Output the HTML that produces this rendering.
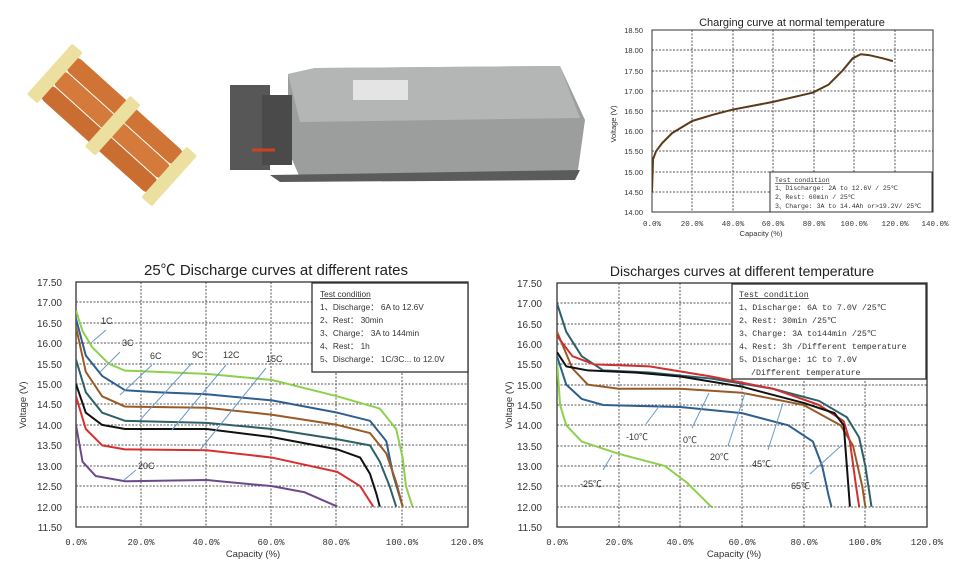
<!DOCTYPE html>
<html><head><meta charset="utf-8"><style>
body{margin:0;background:#fff;}
svg{display:block;font-family:"Liberation Sans","Noto Sans CJK SC",sans-serif;}
.m{font-family:"Liberation Mono","Noto Sans CJK SC",monospace;font-size:9px;fill:#333}
.g line{stroke:#555;stroke-width:1;stroke-dasharray:2,1.5}
</style></head><body>
<svg width="960" height="573" viewBox="0 0 960 573">
<!-- left photo: battery sticks -->
<g transform="translate(112,125) rotate(42)">
  <rect x="-75" y="-28" width="150" height="18" rx="9" fill="#cf7435"/>
  <rect x="-75" y="-9" width="150" height="18" rx="9" fill="#d47a3a"/>
  <rect x="-75" y="10" width="150" height="18" rx="9" fill="#c96d30"/>
  <rect x="-84" y="-34" width="14" height="68" rx="2" fill="#ece0a0"/>
  <rect x="-6" y="-34" width="14" height="68" rx="2" fill="#ece0a0"/>
  <rect x="70" y="-34" width="14" height="68" rx="2" fill="#ece0a0"/>
</g>
<!-- middle photo: battery pack -->
<polygon points="288,74 315,68 560,66 585,120 578,170 560,178 300,178 288,150" fill="#9c9e9d"/>
<polygon points="288,74 315,68 560,66 580,118 300,122" fill="#b4b6b5"/>
<rect x="353" y="80" width="55" height="20" fill="#e4e4e4"/>
<rect x="230" y="85" width="40" height="85" fill="#3a3a3a" opacity="0.85"/>
<rect x="262" y="95" width="30" height="70" fill="#4a4a4a"/>
<line x1="252" y1="150" x2="275" y2="150" stroke="#d04020" stroke-width="3"/>
<polygon points="270,175 580,170 575,180 280,182" fill="#5a5c5b"/>

<!-- ===== Top-right chart ===== -->
<text x="792" y="26" font-size="11" text-anchor="middle" fill="#222">Charging curve at normal temperature</text>
<g class="g">
<line x1="692" y1="30" x2="692" y2="212"/><line x1="733" y1="30" x2="733" y2="212"/><line x1="773" y1="30" x2="773" y2="212"/><line x1="814" y1="30" x2="814" y2="212"/><line x1="854" y1="30" x2="854" y2="212"/><line x1="895" y1="30" x2="895" y2="212"/>
<line x1="652" y1="50" x2="933" y2="50"/><line x1="652" y1="71" x2="933" y2="71"/><line x1="652" y1="91" x2="933" y2="91"/><line x1="652" y1="111" x2="933" y2="111"/><line x1="652" y1="131" x2="933" y2="131"/><line x1="652" y1="151" x2="933" y2="151"/><line x1="652" y1="172" x2="933" y2="172"/><line x1="652" y1="192" x2="933" y2="192"/>
</g>
<rect x="652" y="30" width="281" height="182" fill="none" stroke="#333" stroke-width="1"/>
<g font-size="7.5" fill="#333" text-anchor="end">
<text x="643" y="33">18.50</text><text x="643" y="53">18.00</text><text x="643" y="74">17.50</text><text x="643" y="94">17.00</text><text x="643" y="114">16.50</text><text x="643" y="134">16.00</text><text x="643" y="154">15.50</text><text x="643" y="175">15.00</text><text x="643" y="195">14.50</text><text x="643" y="215">14.00</text>
</g>
<g class="m" text-anchor="middle" style="font-size:7.5px">
<text x="652" y="226">0.0%</text><text x="692" y="226">20.0%</text><text x="733" y="226">40.0%</text><text x="773" y="226">60.0%</text><text x="814" y="226">80.0%</text><text x="854" y="226">100.0%</text><text x="895" y="226">120.0%</text><text x="935" y="226">140.0%</text>
</g>
<text x="761" y="236" font-size="7.5" text-anchor="middle" fill="#333">Capacity (%)</text>
<text transform="translate(616,124) rotate(-90)" font-size="7.5" text-anchor="middle" fill="#333">Voltage (V)</text>
<svg x="652" y="30" width="281" height="182" viewBox="0 -18.5 140 4.5" preserveAspectRatio="none">
<polyline fill="none" stroke="#5a3a18" stroke-width="2" vector-effect="non-scaling-stroke" stroke-linejoin="round" points="0,-14.5 0.5,-15.3 2,-15.5 5,-15.7 10,-15.95 20,-16.25 30,-16.4 40,-16.53 60,-16.72 80,-16.95 88,-17.15 95,-17.5 100,-17.8 104,-17.9 108,-17.88 115,-17.8 120,-17.73"/>
</svg>
<rect x="770" y="172" width="162" height="40" fill="#fff" stroke="#333"/>
<g font-family="Liberation Mono,monospace" font-size="6.5" fill="#333">
<text x="775" y="182" text-decoration="underline">Test condition</text>
<text x="775" y="190">1、Discharge: 2A to 12.6V / 25℃</text>
<text x="775" y="199">2、Rest: 60min / 25℃</text>
<text x="775" y="208">3、Charge: 3A to 14.4Ah or&gt;19.2V/ 25℃</text>
</g>

<!-- ===== Bottom-left chart ===== -->
<text x="276" y="275" font-size="15" text-anchor="middle" fill="#222">25℃ Discharge curves at different rates</text>
<g class="g">
<line x1="141" y1="282" x2="141" y2="527"/><line x1="206" y1="282" x2="206" y2="527"/><line x1="271" y1="282" x2="271" y2="527"/><line x1="336" y1="282" x2="336" y2="527"/><line x1="402" y1="282" x2="402" y2="527"/>
<line x1="76" y1="302" x2="468" y2="302"/><line x1="76" y1="323" x2="468" y2="323"/><line x1="76" y1="343" x2="468" y2="343"/><line x1="76" y1="364" x2="468" y2="364"/><line x1="76" y1="384" x2="468" y2="384"/><line x1="76" y1="404" x2="468" y2="404"/><line x1="76" y1="425" x2="468" y2="425"/><line x1="76" y1="445" x2="468" y2="445"/><line x1="76" y1="466" x2="468" y2="466"/><line x1="76" y1="486" x2="468" y2="486"/><line x1="76" y1="507" x2="468" y2="507"/>
</g>
<rect x="76" y="282" width="392" height="245" fill="none" stroke="#333" stroke-width="1.3"/>
<g font-size="10" fill="#333" text-anchor="end">
<text x="62" y="286">17.50</text><text x="62" y="306">17.00</text><text x="62" y="327">16.50</text><text x="62" y="347">16.00</text><text x="62" y="368">15.50</text><text x="62" y="388">15.00</text><text x="62" y="408">14.50</text><text x="62" y="429">14.00</text><text x="62" y="449">13.50</text><text x="62" y="470">13.00</text><text x="62" y="490">12.50</text><text x="62" y="511">12.00</text><text x="62" y="531">11.50</text>
</g>
<g class="m" text-anchor="middle">
<text x="76" y="545">0.0%</text><text x="141" y="545">20.0%</text><text x="206" y="545">40.0%</text><text x="271" y="545">60.0%</text><text x="336" y="545">80.0%</text><text x="402" y="545">100.0%</text><text x="467" y="545">120.0%</text>
</g>
<text x="253" y="557" font-size="9.5" text-anchor="middle" fill="#333">Capacity (%)</text>
<text transform="translate(26,405) rotate(-90)" font-size="9.5" text-anchor="middle" fill="#333">Voltage (V)</text>
<svg x="76" y="282" width="392" height="245" viewBox="0 -17.5 120 6" preserveAspectRatio="none">
<g fill="none" stroke-width="2" stroke-linejoin="round">
<polyline vector-effect="non-scaling-stroke" stroke="#8dd04a" points="0,-16.8 2,-16.3 5,-15.9 10,-15.5 15,-15.33 25,-15.3 40,-15.25 60,-15.1 80,-14.7 93,-14.4 98,-13.9 100,-13.2 101,-12.5 103,-12"/>
<polyline vector-effect="non-scaling-stroke" stroke="#2f5f8f" points="0,-16.6 3,-15.7 8,-15.2 15,-14.85 25,-14.8 40,-14.75 60,-14.6 80,-14.3 90,-14.1 95,-13.6 97,-12.8 100,-12"/>
<polyline vector-effect="non-scaling-stroke" stroke="#9a5a25" points="0,-16.4 3,-15.3 8,-14.7 15,-14.45 40,-14.42 60,-14.25 80,-14 90,-13.8 95,-13.3 98,-12.6 100,-12"/>
<polyline vector-effect="non-scaling-stroke" stroke="#2e6068" points="0,-15.6 3,-14.8 8,-14.3 15,-14.1 40,-14.05 60,-13.9 80,-13.65 90,-13.5 93,-13.1 96,-12.5 98,-12"/>
<polyline vector-effect="non-scaling-stroke" stroke="#111" points="0,-15 3,-14.3 8,-14 15,-13.9 40,-13.9 60,-13.7 80,-13.4 87,-13.2 90,-12.8 92,-12.3 93,-12"/>
<polyline vector-effect="non-scaling-stroke" stroke="#d83030" points="0,-14.7 3,-13.9 8,-13.5 15,-13.4 40,-13.38 60,-13.2 80,-12.85 87,-12.5 91,-12"/>
<polyline vector-effect="non-scaling-stroke" stroke="#6a4a8a" points="0,-14 2,-13.1 6,-12.75 15,-12.62 40,-12.65 60,-12.5 70,-12.35 80,-12"/>
</g></svg>
<rect x="312" y="283" width="156" height="89" fill="#fff" stroke="#333" stroke-width="1.3"/>
<g font-size="8.3" fill="#333">
<text x="320" y="297" text-decoration="underline">Test condition</text>
<text x="320" y="310">1、Discharge： 6A to 12.6V</text>
<text x="320" y="323">2、Rest： 30min</text>
<text x="320" y="336">3、Charge： 3A  to 144min</text>
<text x="320" y="349">4、Rest： 1h</text>
<text x="320" y="362">5、Discharge： 1C/3C... to 12.0V</text>
</g>
<g font-size="9" fill="#333">
<text x="101" y="324">1C</text><text x="122" y="346">3C</text><text x="150" y="359">6C</text><text x="192" y="358">9C</text><text x="223" y="358">12C</text><text x="266" y="362">15C</text><text x="138" y="469">20C</text>
</g>
<g stroke="#6a9ac8" stroke-width="1">
<line x1="92" y1="342" x2="106" y2="330"/><line x1="100" y1="372" x2="120" y2="352"/><line x1="120" y1="395" x2="152" y2="365"/><line x1="140" y1="420" x2="192" y2="363"/><line x1="172" y1="430" x2="226" y2="365"/><line x1="200" y1="450" x2="266" y2="368"/><line x1="124" y1="480" x2="136" y2="470"/>
</g>

<!-- ===== Bottom-right chart ===== -->
<text x="742" y="276" font-size="14" text-anchor="middle" fill="#222">Discharges curves at different temperature</text>
<g class="g">
<line x1="619" y1="283" x2="619" y2="527"/><line x1="680" y1="283" x2="680" y2="527"/><line x1="742" y1="283" x2="742" y2="527"/><line x1="804" y1="283" x2="804" y2="527"/><line x1="865" y1="283" x2="865" y2="527"/>
<line x1="557" y1="303" x2="927" y2="303"/><line x1="557" y1="324" x2="927" y2="324"/><line x1="557" y1="344" x2="927" y2="344"/><line x1="557" y1="364" x2="927" y2="364"/><line x1="557" y1="385" x2="927" y2="385"/><line x1="557" y1="405" x2="927" y2="405"/><line x1="557" y1="425" x2="927" y2="425"/><line x1="557" y1="446" x2="927" y2="446"/><line x1="557" y1="466" x2="927" y2="466"/><line x1="557" y1="486" x2="927" y2="486"/><line x1="557" y1="507" x2="927" y2="507"/>
</g>
<rect x="557" y="283" width="370" height="244" fill="none" stroke="#333" stroke-width="1.3"/>
<g font-size="10" fill="#333" text-anchor="end">
<text x="542" y="287">17.50</text><text x="542" y="307">17.00</text><text x="542" y="328">16.50</text><text x="542" y="348">16.00</text><text x="542" y="368">15.50</text><text x="542" y="389">15.00</text><text x="542" y="409">14.50</text><text x="542" y="429">14.00</text><text x="542" y="450">13.50</text><text x="542" y="470">13.00</text><text x="542" y="490">12.50</text><text x="542" y="511">12.00</text><text x="542" y="531">11.50</text>
</g>
<g class="m" text-anchor="middle">
<text x="557" y="545">0.0%</text><text x="619" y="545">20.0%</text><text x="680" y="545">40.0%</text><text x="742" y="545">60.0%</text><text x="804" y="545">80.0%</text><text x="865" y="545">100.0%</text><text x="927" y="545">120.0%</text>
</g>
<text x="734" y="557" font-size="9.5" text-anchor="middle" fill="#333">Capacity (%)</text>
<text transform="translate(512,405) rotate(-90)" font-size="9.5" text-anchor="middle" fill="#333">Voltage (V)</text>
<svg x="557" y="283" width="370" height="244" viewBox="0 -17.5 120 6" preserveAspectRatio="none">
<g fill="none" stroke-width="2" stroke-linejoin="round">
<polyline vector-effect="non-scaling-stroke" stroke="#8dd04a" points="0,-15.6 1,-14.5 3,-14 8,-13.6 20,-13.3 35,-13 42,-12.6 46,-12.3 50,-12"/>
<polyline vector-effect="non-scaling-stroke" stroke="#2f5f8f" points="0,-15.7 3,-15 8,-14.65 15,-14.5 40,-14.45 60,-14.3 75,-14 83,-13.6 86,-13 88,-12.3 89,-12"/>
<polyline vector-effect="non-scaling-stroke" stroke="#9a5a25" points="0,-16.3 5,-15.4 10,-15 20,-14.9 40,-14.9 60,-14.8 80,-14.5 92,-14 96,-13.5 99,-12.5 100,-12"/>
<polyline vector-effect="non-scaling-stroke" stroke="#2e6068" points="0,-17 3,-16.3 8,-15.7 15,-15.35 30,-15.3 50,-15.15 70,-14.9 85,-14.6 94,-14.2 98,-13.7 100,-13 101,-12.5 102,-12"/>
<polyline vector-effect="non-scaling-stroke" stroke="#d03030" points="0,-16.2 5,-15.7 12,-15.5 30,-15.45 50,-15.2 70,-14.9 85,-14.5 93,-14.1 95,-13.6 97,-12.5 98,-12"/>
<polyline vector-effect="non-scaling-stroke" stroke="#111" points="0,-15.8 3,-15.45 10,-15.35 25,-15.3 40,-15.2 60,-14.95 80,-14.55 90,-14.3 93,-14 94,-13 95,-12"/>
</g></svg>
<rect x="732" y="284" width="194" height="95" fill="#fff" stroke="#333" stroke-width="1.3"/>
<g font-family="Liberation Mono,monospace" font-size="8.3" fill="#333">
<text x="739" y="297" text-decoration="underline">Test condition</text>
<text x="739" y="310">1、Discharge: 6A to 7.0V /25℃</text>
<text x="739" y="323">2、Rest: 30min /25℃</text>
<text x="739" y="336">3、Charge: 3A to144min /25℃</text>
<text x="739" y="349">4、Rest: 3h /Different temperature</text>
<text x="739" y="362">5、Discharge: 1C  to 7.0V</text>
<text x="751" y="375">/Different temperature</text>
</g>
<g font-size="9" fill="#333">
<text x="626" y="440">-10℃</text><text x="683" y="443">0℃</text><text x="710" y="460">20℃</text><text x="752" y="467">45℃</text><text x="791" y="489">65℃</text><text x="580" y="487">-25℃</text>
</g>
<g stroke="#6a9ac8" stroke-width="1">
<line x1="660" y1="405" x2="646" y2="424"/><line x1="709" y1="393" x2="692" y2="428"/><line x1="745" y1="393" x2="728" y2="446"/><line x1="783" y1="403" x2="768" y2="450"/><line x1="842" y1="445" x2="810" y2="474"/><line x1="612" y1="455" x2="603" y2="470"/>
</g>
</svg>
</body></html>
